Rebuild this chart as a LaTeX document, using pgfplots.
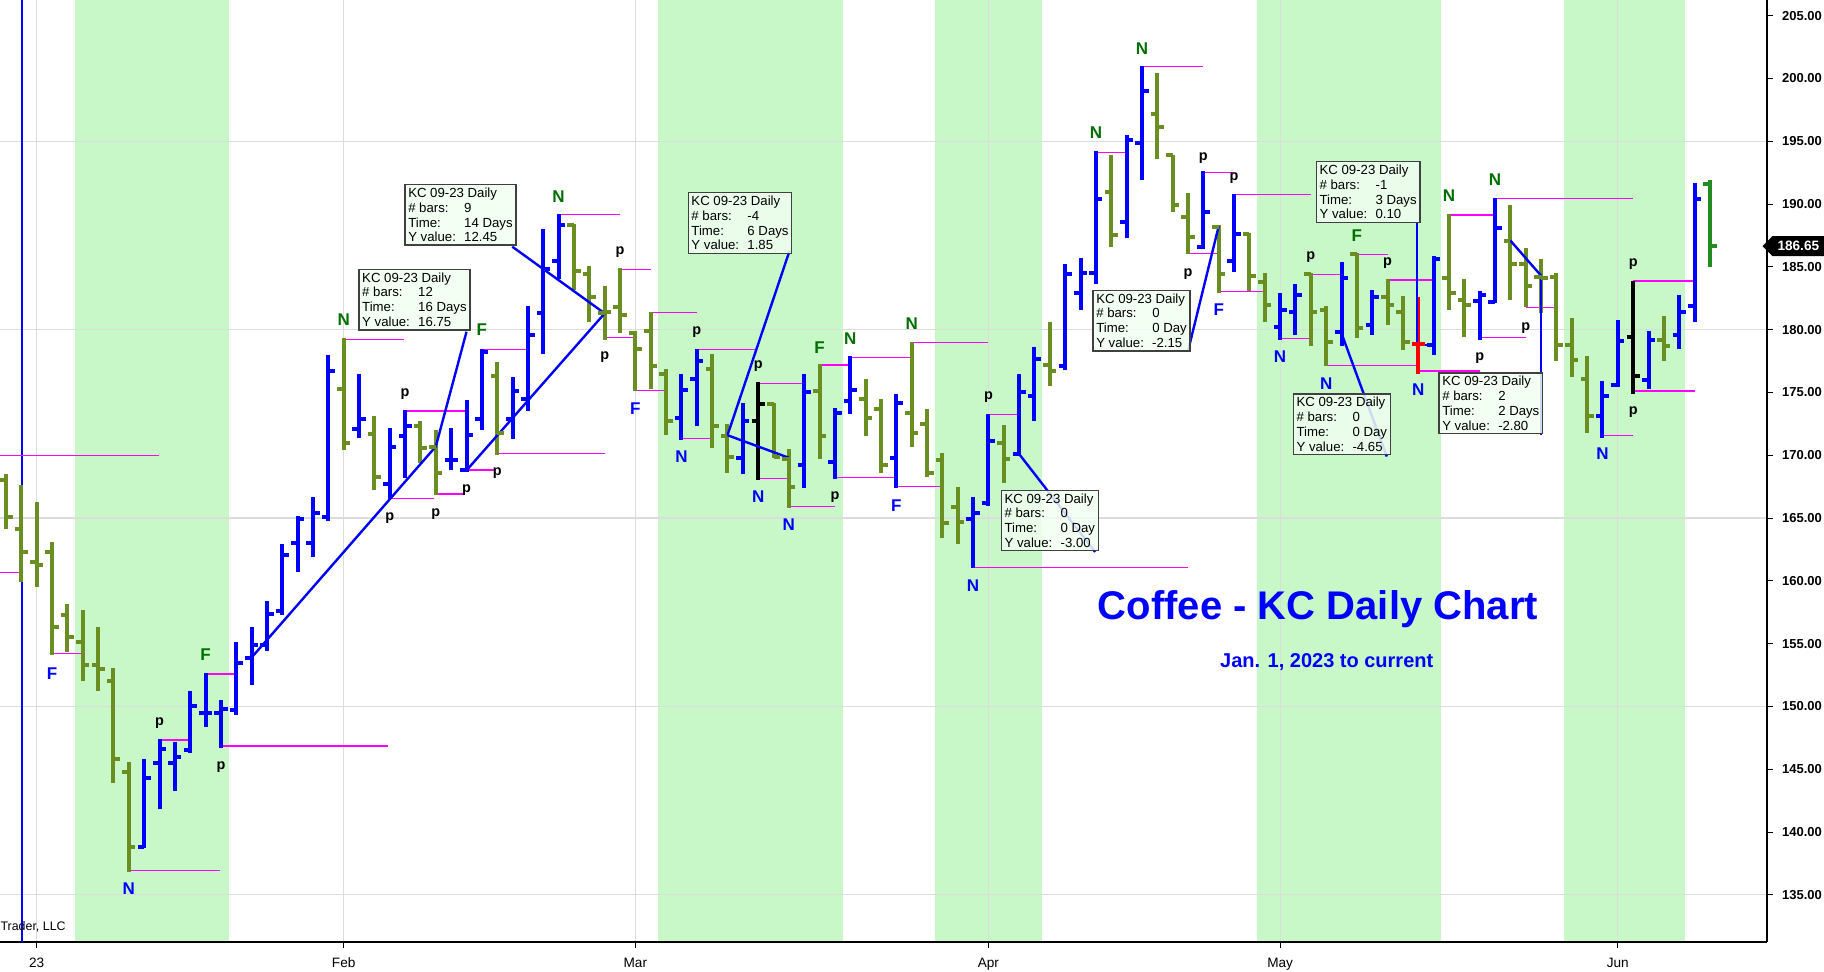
\documentclass[border=0pt]{standalone}
\usepackage{pgfplots}
\pgfplotsset{compat=1.18}
\usepackage{pgfplotstable}
\usepackage{fontspec}
\setmainfont{Liberation Sans}
\usetikzlibrary{shapes.symbols}

\definecolor{barblue}{RGB}{0,0,255}
\definecolor{barolive}{RGB}{107,142,35}
\definecolor{barred}{RGB}{255,0,0}
\definecolor{bargreen}{RGB}{34,139,34}
\definecolor{band}{RGB}{200,247,200}
\definecolor{pinkline}{RGB}{255,0,255}
\definecolor{dkgreen}{RGB}{0,110,0}
\definecolor{gridgray}{RGB}{220,220,220}
\definecolor{boxfill}{RGB}{240,255,240}

\pgfdeclareplotmark{otick}{\pgfpathmoveto{\pgfqpoint{-3.3pt}{0pt}}\pgfpathlineto{\pgfqpoint{0pt}{0pt}}\pgfusepathqstroke}
\pgfdeclareplotmark{ctick}{\pgfpathmoveto{\pgfqpoint{0pt}{0pt}}\pgfpathlineto{\pgfqpoint{3.3pt}{0pt}}\pgfusepathqstroke}

\pgfplotstableread{
i o h l c
7 138.8 145.8 138.7 144.3
8 145.5 147.4 141.8 146.6
9 145.5 147.2 143.3 146.0
10 146.5 151.2 146.3 150.0
11 149.5 152.7 148.4 149.5
12 149.5 150.5 146.7 149.8
13 149.7 155.1 149.3 153.5
14 153.9 156.3 151.7 154.9
15 154.9 158.4 154.4 157.4
16 157.6 162.9 157.3 162.1
17 163.0 165.2 160.7 164.9
18 163.0 166.7 161.9 165.4
19 165.1 178.0 164.8 176.7
21 172.1 176.5 171.4 172.9
23 167.7 172.2 166.5 170.7
24 171.5 173.6 168.2 172.3
27 169.6 172.2 168.8 169.6
28 168.8 174.4 168.7 171.6
29 172.9 178.5 172.0 178.2
31 172.9 176.2 171.3 175.1
32 174.5 181.9 173.5 179.6
33 181.3 188.0 178.1 184.8
34 185.5 189.2 184.0 188.3
42 173.0 176.5 171.2 175.2
43 176.1 178.5 172.3 177.5
46 169.8 174.2 168.5 172.7
50 169.2 176.5 167.4 175.0
52 169.5 173.8 168.1 173.4
53 174.3 177.9 173.3 175.2
56 169.8 174.9 167.4 174.2
61 164.9 166.7 161.0 165.4
62 166.2 173.3 166.0 171.1
64 170.1 176.5 170.1 175.0
65 174.7 178.6 172.7 177.7
67 177.1 185.2 176.8 184.4
68 182.9 185.7 181.6 184.5
69 184.5 194.2 183.6 190.4
71 188.6 195.5 187.3 195.1
72 194.9 201.0 191.9 199.0
76 186.6 192.6 186.4 189.4
78 185.5 190.8 184.6 187.6
81 180.2 182.9 179.2 181.6
82 181.4 183.6 179.6 182.8
85 179.8 185.4 178.7 184.1
87 180.4 183.2 179.6 182.6
91 178.8 185.9 178.0 185.6
94 182.3 183.1 179.2 182.8
95 182.2 190.5 182.1 188.1
102 173.1 175.9 171.4 174.7
103 175.6 180.8 175.4 179.1
105 176.0 179.9 175.3 179.2
107 179.6 182.8 178.5 181.4
108 181.9 191.7 180.6 190.4
}\tblblue

\pgfplotstableread{
i o h l c
-2 168.0 168.5 164.1 165.1
-1 164.1 167.6 159.9 162.3
0 161.5 166.3 159.5 161.3
1 162.3 163.1 154.1 156.3
2 157.3 158.2 154.3 155.5
3 155.1 157.7 152.0 153.3
4 153.3 156.3 151.2 153.0
5 152.0 153.1 143.9 145.8
6 144.8 145.6 136.8 138.8
20 175.3 179.3 170.4 171.0
22 171.7 173.1 167.2 168.3
25 172.3 172.7 169.4 170.6
26 170.7 172.0 166.8 168.6
30 176.3 177.4 170.0 171.8
35 188.3 188.4 183.2 184.7
36 184.4 185.1 180.6 182.6
37 181.3 183.5 179.2 181.4
38 181.8 184.9 179.7 181.2
39 179.7 179.9 175.1 178.5
40 179.9 181.4 175.3 177.1
41 176.5 176.9 171.6 172.7
44 176.9 178.1 170.6 172.3
45 171.5 172.5 168.6 169.9
48 174.1 174.2 169.8 169.9
49 169.7 170.5 165.8 167.5
51 175.1 177.3 169.7 171.5
54 174.5 176.1 171.5 173.0
55 173.7 174.5 168.6 169.2
57 173.4 179.0 170.7 171.8
58 172.5 173.7 168.3 168.6
59 169.6 170.2 163.4 164.6
60 165.9 167.5 162.9 164.7
63 171.0 172.4 167.8 169.7
66 177.2 180.6 175.5 176.7
70 191.0 193.9 186.6 187.5
73 197.2 200.4 193.6 196.1
74 193.9 193.9 189.4 189.9
75 189.0 190.9 186.0 187.4
77 188.2 188.3 182.9 184.4
79 187.6 187.7 183.1 184.3
80 183.8 184.5 180.6 182.0
83 184.4 184.5 178.7 181.4
84 181.6 181.9 177.1 179.0
86 186.0 186.1 179.3 180.1
88 182.6 184.0 180.4 182.0
89 181.4 182.7 178.4 179.0
92 184.1 189.2 181.6 182.9
93 182.4 184.0 179.4 182.0
96 187.1 189.9 182.4 185.2
97 185.2 186.5 181.8 183.5
98 184.2 185.6 181.3 184.1
99 184.2 184.5 177.5 178.8
100 178.8 180.9 176.2 177.6
101 176.1 177.9 171.8 173.1
106 179.2 181.1 177.5 178.7
}\tblolive

\pgfplotstableread{
i o h l c
47 172.7 175.8 168.0 174.1
104 179.4 183.9 174.9 176.3
}\tblblack

\pgfplotstableread{
i o h l c
90 178.9 182.6 176.5 178.9
}\tblred

\pgfplotstableread{
i o h l c
109 191.6 191.9 185.0 186.7
}\tblgreen

% pivot lines: start x, level y, length
\pgfplotstableread{
x y len
-2.39 170.00 10.36
-2.39 160.68 1.39
1 154.24 1.93
6 136.93 5.94
8 147.33 2
11 152.59 2
12 146.86 10.9
20 179.23 3.95
23 166.58 2.9
24 173.53 4
26 166.92 1.9
28 168.83 1.9
29 178.44 3
30 170.16 7
34 189.16 4
38 184.81 2
37 179.39 1.9
39 175.14 2
40 181.38 3
42 171.35 2
43 178.44 3.8
47 175.73 3
47 168.17 2
49 165.91 3
51 177.19 2
53 177.80 4
52 168.25 4
57 178.99 5
56 167.50 3
61 161.08 14
62 173.26 2
69 194.12 2
72 200.97 4
76 192.50 2
75 186.09 2
78 190.74 5
77 183.03 3
81 179.32 2
83 184.41 2
84 177.14 6
86 186.00 2
88 183.96 3
90 176.71 4
92 189.13 3
94 179.39 3
95 190.46 9
97 181.78 2
104 183.88 4
104 175.12 4
102 171.59 2
}\tblpink

% measurement lines: start x, start y, dx, dy
\pgfplotstableread{
x y du dv
14 153.9 12 16.8
26 170.7 2.0 9.14
28 168.8 9 12.5
37 181.3 -6.02 5.31
49 169.8 -4 1.8
45 171.6 4.05 14.7
64 170.1 4.95 -7.8
77 188.24 -1.98 -9.84
91 178.8 -1.1 0
89.9 178.8 0 9.7
85 179.71 2.95 -9.81
96 187.1 2 -2.8
98 184.3 0 -12.7
}\tblann

\newcommand{\ohlc}[2]{%
  \addplot[#1, line width=2pt, quiver={u=0, v=\thisrow{h}-\thisrow{l}}] table[x=i, y=l] {#2};
  \addplot[#1, only marks, mark=otick, mark options={line width=2pt}] table[x=i, y=o] {#2};
  \addplot[#1, only marks, mark=ctick, mark options={line width=2pt}] table[x=i, y=c] {#2};
}

\tikzset{mbox/.style={draw=black!75, line width=0.7pt, fill=boxfill, fill opacity=0.85, text opacity=1,
  font=\fontsize{6.6}{7.4}\selectfont, align=left, inner xsep=1.6pt, inner ysep=1.6pt, anchor=north west}}
\newcommand{\mb}[1]{\makebox[28pt][l]{#1}}

\begin{document}
\begin{tikzpicture}
\begin{axis}[
  at={(0pt,15pt)}, anchor=south west,
  scale only axis, width=883.5pt, height=471pt,
  set layers, clip=false,
  xmin=-2.391, xmax=112.72, ymin=131.25, ymax=206.25,
  axis x line*=bottom, axis y line*=right,
  x axis line style={line width=1pt, black},
  y axis line style={line width=0.7pt, black},
  tick align=outside, major tick length=3pt,
  tick style={black, line width=0.5pt},
  xtick={0,20,39,62,81,103},
  xticklabels={23,Feb,Mar,Apr,May,Jun},
  xmajorgrids=true,
  grid style={gridgray, line width=0.6pt},
  ytick={135,140,...,205},
  yticklabels={135.00,140.00,145.00,150.00,155.00,160.00,165.00,170.00,175.00,180.00,185.00,190.00,195.00,200.00,205.00},
  extra y ticks={135,150,165,180,195},
  extra y tick labels={},
  extra y tick style={ymajorgrids=true, major tick length=0pt},
  /pgf/number format/assume math mode=true,
  xticklabel style={font=\fontsize{6.8}{8}\selectfont, yshift=-1.5pt},
  yticklabel style={font=\bfseries\fontsize{6.5}{8}\selectfont, xshift=1pt},
]
% shaded bands
\addplot[on layer=axis background, fill=band, draw=none] coordinates {(2.5,131.25) (2.5,206.25) (12.5,206.25) (12.5,131.25)} -- cycle;
\addplot[on layer=axis background, fill=band, draw=none] coordinates {(40.5,131.25) (40.5,206.25) (52.5,206.25) (52.5,131.25)} -- cycle;
\addplot[on layer=axis background, fill=band, draw=none] coordinates {(58.5,131.25) (58.5,206.25) (65.5,206.25) (65.5,131.25)} -- cycle;
\addplot[on layer=axis background, fill=band, draw=none] coordinates {(79.5,131.25) (79.5,206.25) (91.5,206.25) (91.5,131.25)} -- cycle;
\addplot[on layer=axis background, fill=band, draw=none] coordinates {(99.5,131.25) (99.5,206.25) (107.4,206.25) (107.4,131.25)} -- cycle;

% blue vertical marker line
\addplot[barblue, line width=1pt] coordinates {(-0.98,131.25) (-0.98,206.25)};

% pivot lines
\addplot[pinkline, line width=0.6pt, quiver={u=\thisrow{len}, v=0}] table[x=x, y=y] {\tblpink};

% OHLC bars
\ohlc{barolive}{\tblolive}
\ohlc{barblue}{\tblblue}
\ohlc{black}{\tblblack}
\ohlc{barred}{\tblred}
\ohlc{bargreen}{\tblgreen}

% measurement lines
\addplot[barblue, line width=1.2pt, quiver={u=\thisrow{du}, v=\thisrow{dv}}] table[x=x, y=y] {\tblann};

% pivot letters
\addplot[barblue, only marks, mark=text, text mark={N}, text mark as node=true,
  text mark style={font=\bfseries\fontsize{8.5}{9}\selectfont, text=barblue}]
  coordinates {(6,135.5) (42,169.9) (47,166.7) (49,164.45) (61,159.6) (81,177.85) (84,175.68) (90,175.2) (102,170.1)};
\addplot[barblue, only marks, mark=text, text mark={F}, text mark as node=true,
  text mark style={font=\bfseries\fontsize{8.5}{9}\selectfont, text=barblue}]
  coordinates {(1,152.6) (39,173.7) (56,166.0) (77,181.6)};
\addplot[dkgreen, only marks, mark=text, text mark={N}, text mark as node=true,
  text mark style={font=\bfseries\fontsize{8.5}{9}\selectfont, text=dkgreen}]
  coordinates {(20,180.8) (34,190.6) (53,179.3) (57,180.45) (69,195.7) (72,202.4) (92,190.64) (95,191.95)};
\addplot[dkgreen, only marks, mark=text, text mark={F}, text mark as node=true,
  text mark style={font=\bfseries\fontsize{8.5}{9}\selectfont, text=dkgreen}]
  coordinates {(11,154.1) (29,180.0) (51,178.6) (86,187.46)};
\addplot[black, only marks, mark=text, text mark={p}, text mark as node=true,
  text mark style={font=\bfseries\fontsize{7.2}{8}\selectfont, text=black}]
  coordinates {(8,148.7) (12,145.2) (24,174.9) (23,165.0) (26,165.3) (28,167.2) (30,168.6) (38,186.2) (37,177.8) (43,179.8) (47,177.1) (52,166.7) (62,174.65) (76,193.7) (75,184.4) (78,192.1) (83,185.76) (88,185.34) (94,177.72) (97,180.1) (104,185.23) (104,173.47)};

% measurement boxes
\node[mbox] at (axis cs:20.95,184.86) {KC 09-23 Daily\\\mb{\# bars:}12\\\mb{Time:}16 Days\\\mb{Y value:}16.75};
\node[mbox] at (axis cs:23.95,191.6) {KC 09-23 Daily\\\mb{\# bars:}9\\\mb{Time:}14 Days\\\mb{Y value:}12.45};
\node[mbox] at (axis cs:42.4,190.96) {KC 09-23 Daily\\\mb{\# bars:}-4\\\mb{Time:}6 Days\\\mb{Y value:}1.85};
\node[mbox] at (axis cs:62.8,167.27) {KC 09-23 Daily\\\mb{\# bars:}0\\\mb{Time:}0 Day\\\mb{Y value:}-3.00};
\node[mbox] at (axis cs:68.77,183.19) {KC 09-23 Daily\\\mb{\# bars:}0\\\mb{Time:}0 Day\\\mb{Y value:}-2.15};
\node[mbox] at (axis cs:83.32,193.43) {KC 09-23 Daily\\\mb{\# bars:}-1\\\mb{Time:}3 Days\\\mb{Y value:}0.10};
\node[mbox] at (axis cs:81.82,174.94) {KC 09-23 Daily\\\mb{\# bars:}0\\\mb{Time:}0 Day\\\mb{Y value:}-4.65};
\node[mbox] at (axis cs:91.31,176.61) {KC 09-23 Daily\\\mb{\# bars:}2\\\mb{Time:}2 Days\\\mb{Y value:}-2.80};

% titles
\node[anchor=base, text=barblue, font=\bfseries\fontsize{20}{24}\selectfont, inner sep=0pt] at (axis cs:83.47,156.89) {Coffee - KC Daily Chart};
\node[anchor=base, text=barblue, font=\bfseries\fontsize{10}{12}\selectfont, inner sep=0pt] at (axis cs:84.04,153.07) {Jan. 1, 2023 to current};
\node[anchor=base east, font=\fontsize{6.2}{7}\selectfont, inner sep=0pt] at (axis cs:1.91,132.13) {Trader, LLC};

% last price marker
\node[signal, signal to=west, fill=black, text=white, font=\bfseries\fontsize{6.8}{8}\selectfont,
  inner xsep=2.5pt, inner ysep=2.6pt, minimum height=9.5pt, anchor=west] at (axis cs:112.39,186.65) {186.65};
\end{axis}
\pgfresetboundingbox
\path[use as bounding box] (0,0) rectangle (912pt,486pt);
\end{tikzpicture}
\end{document}
